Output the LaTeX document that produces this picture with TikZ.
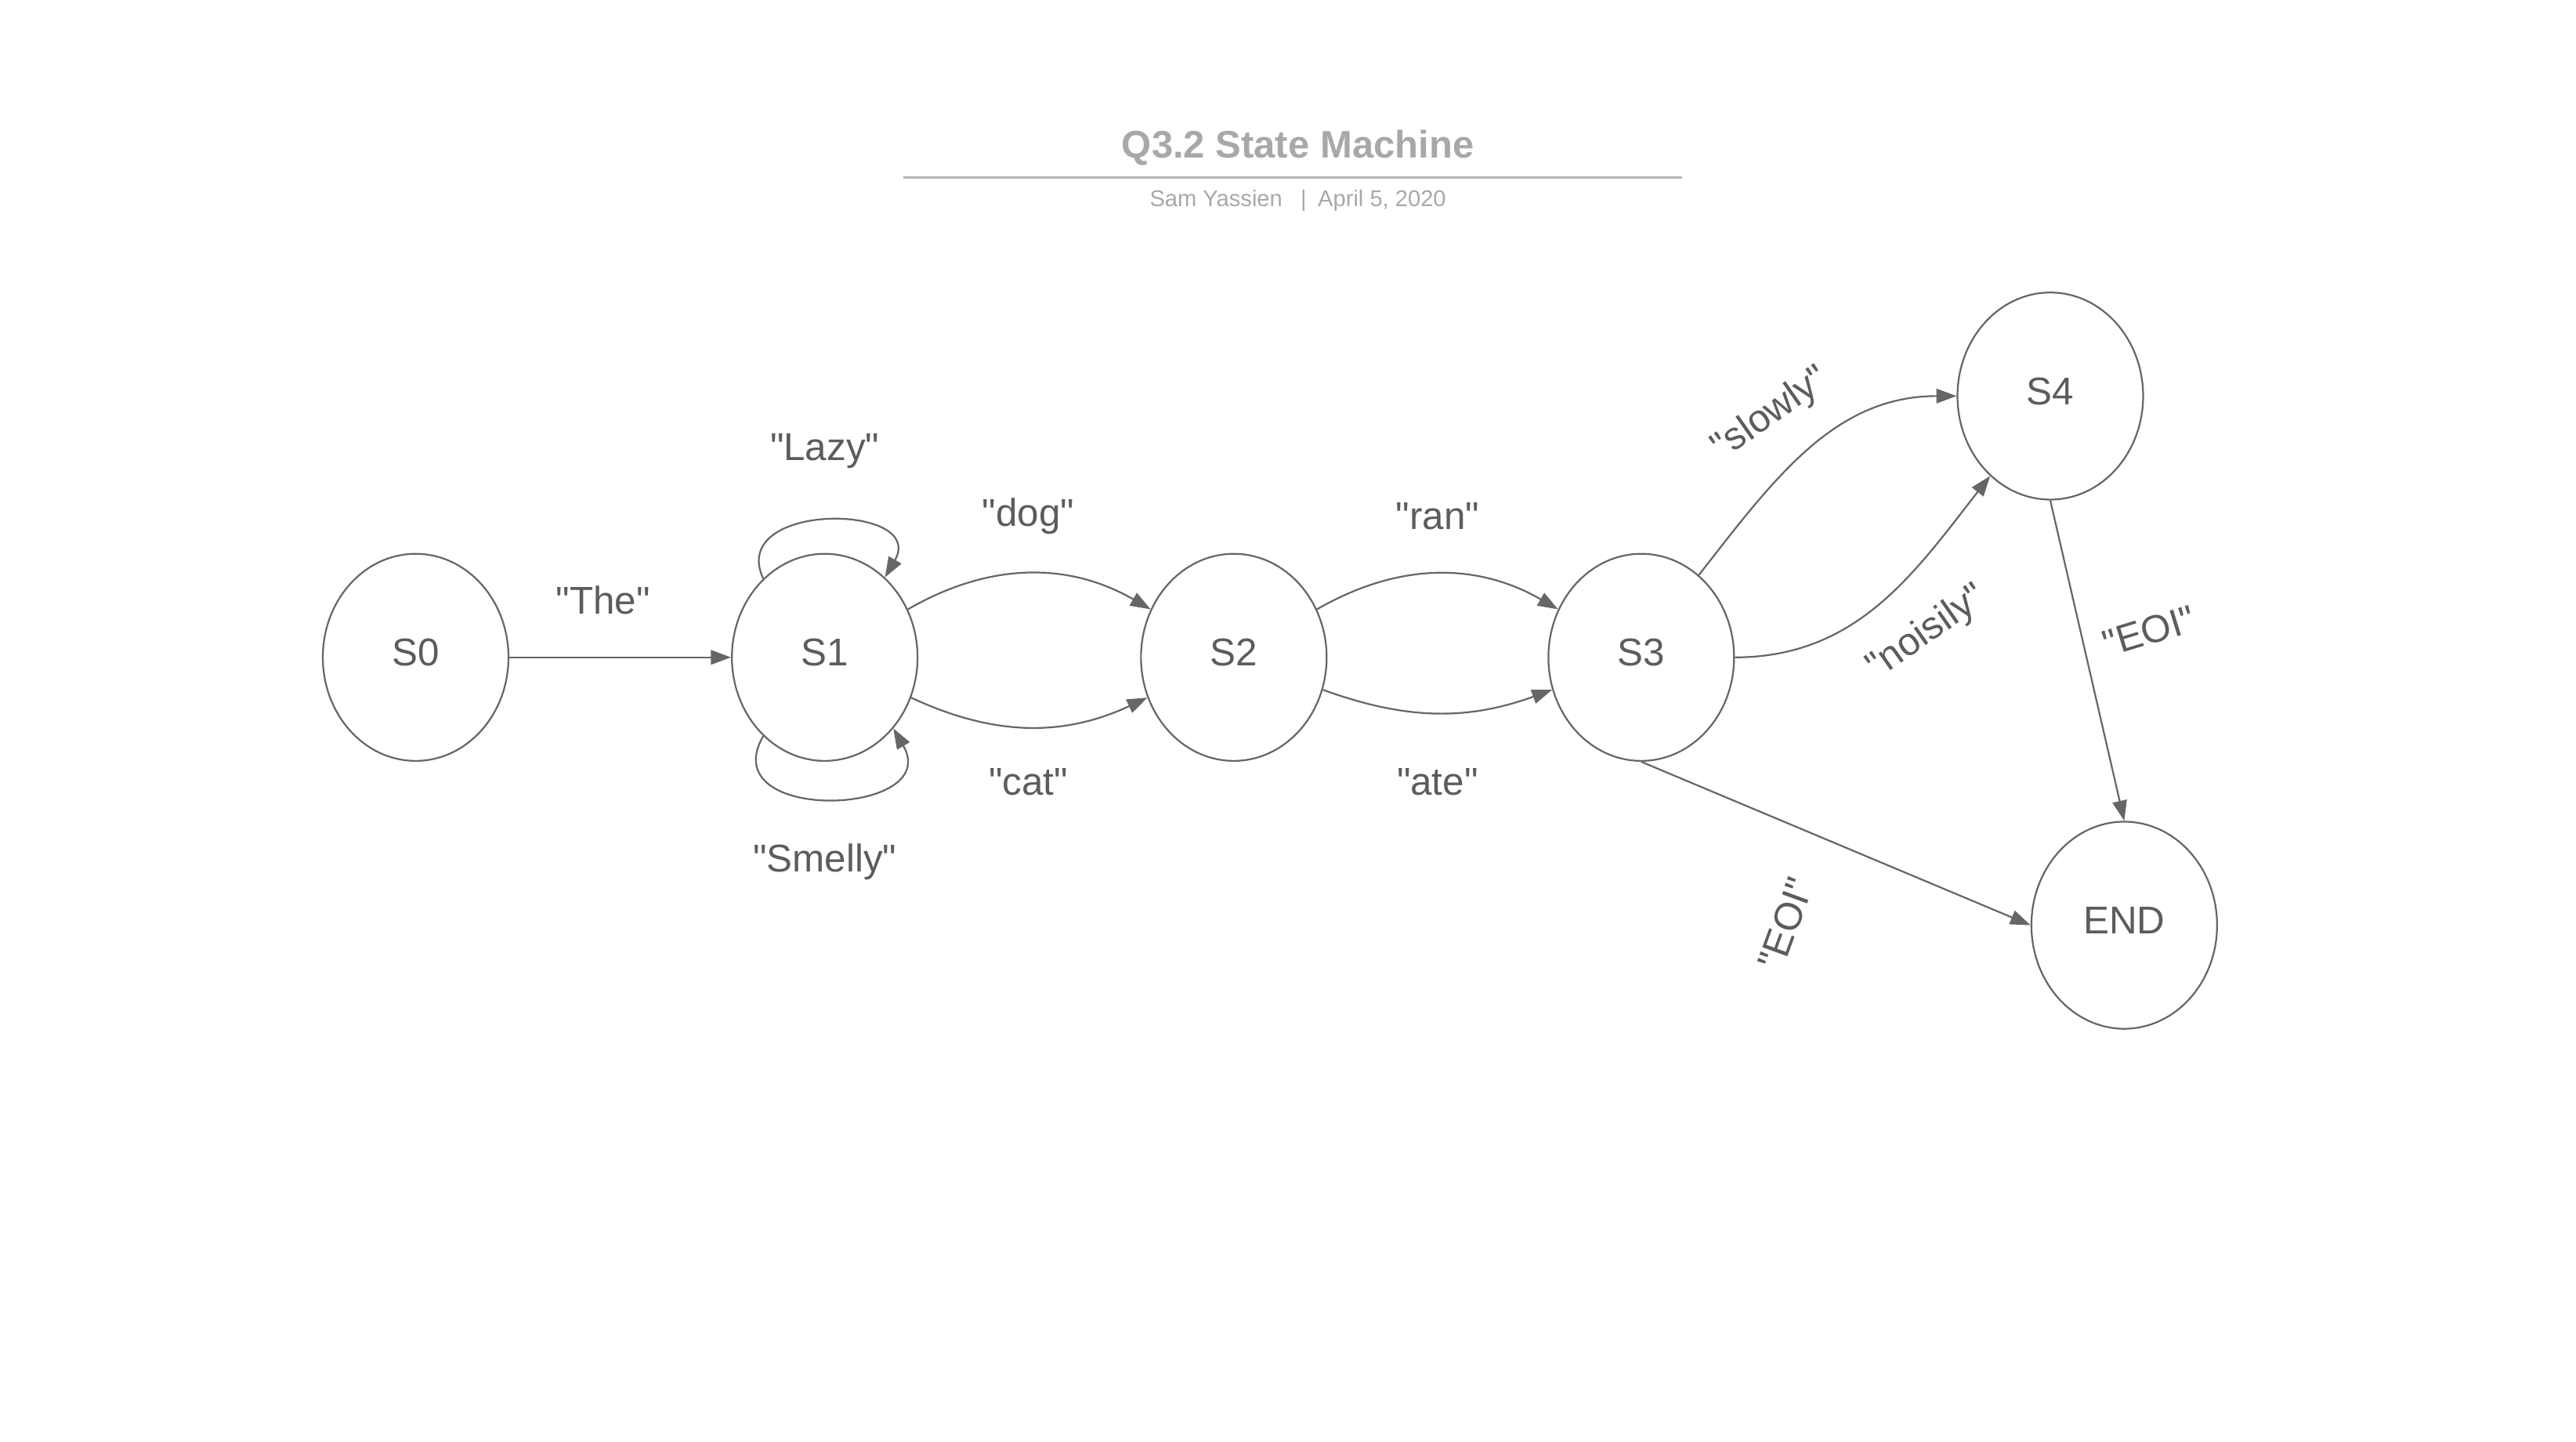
\documentclass[tikz,border=0pt]{standalone}
\usepackage{fontspec}
\setmainfont{Liberation Sans}[Ligatures=TeXOff]
\usepackage{tikz}
\usetikzlibrary{arrows.meta,positioning,shapes.geometric}
\definecolor{lineG}{RGB}{102,102,102}
\definecolor{textG}{RGB}{92,92,92}
\definecolor{titleG}{RGB}{168,168,168}
\definecolor{ruleG}{RGB}{180,180,180}
% straight double quotes round a word
\newcommand{\qw}[1]{"#1"}

\begin{document}
\begin{tikzpicture}[font=\fontsize{13.4}{16}\selectfont, >={Triangle[length=7pt,width=5pt]},
  st/.style={ellipse, draw=lineG, line width=0.6pt, text=textG, minimum width=2.26cm, minimum height=2.52cm, inner sep=0, text depth=3.4pt},
  lb/.style={text=textG, inner sep=0},
  ed/.style={->, draw=lineG, line width=0.6pt}]
  \useasboundingbox (0,0) rectangle (31.36,17.54);
  % title block
  \node[font=\bfseries\fontsize{13.3}{16}\selectfont, text=titleG] (title) at (15.8,15.74) {Q3.2 State Machine};
  \draw[ruleG, line width=1pt] (11.0,15.38) -- (20.48,15.38);
  \node[font=\fontsize{7.9}{9}\selectfont, text=titleG] (sub) at (15.8,15.10)
    {Sam Yassien\hspace{0.8em}|\hspace{0.5em}April 5, 2020};
  % states
  \node[st] (S0) at (5.06,9.54) {S0};
  \node[st] (S1) at (10.04,9.54) {S1};
  \node[st] (S2) at (15.02,9.54) {S2};
  \node[st] (S3) at (19.98,9.54) {S3};
  \node[st] (S4) at (24.96,12.72) {S4};
  \node[st] (END) at (25.86,6.28) {END};
  % transitions
  \draw[ed] (S0) -- (S1);
  \draw[ed] (S1.128) to[out=115, in=60, looseness=1.8] (S1.53);
  \draw[ed] (S1.232) to[out=240, in=300, looseness=2] (S1.314);
  \draw[ed] (S1) to[bend left=30] (S2);
  \draw[ed] (S1) to[bend right=25] (S2);
  \draw[ed] (S2) to[bend left=30] (S3);
  \draw[ed] (S2) to[bend right=20] (S3);
  \draw[ed] (S3.55) to[out=52, in=180] (S4.west);
  \draw[ed] (S3.east) to[out=0, in=232] (S4.233);
  \draw[ed] (S4.south) -- (END.north);
  \draw[ed] (S3.south) -- (END.west);
  % labels
  \node[lb] (lThe) at (7.34,10.24) {\qw{The}};
  \node[lb] (lLazy) at (10.04,12.05) {\qw{Lazy}};
  \node[lb] (lSmelly) at (10.04,7.05) {\qw{Smelly}};
  \node[lb] (lDog) at (12.52,11.26) {\qw{dog}};
  \node[lb] (lCat) at (12.52,8.02) {\qw{cat}};
  \node[lb] (lRan) at (17.50,11.26) {\qw{ran}};
  \node[lb] (lAte) at (17.50,8.02) {\qw{ate}};
  \node[lb, rotate=35] (lSlowly) at (21.56,12.50) {\qw{slowly}};
  \node[lb, rotate=35] (lNoisily) at (23.46,9.84) {\qw{noisily}};
  \node[lb, rotate=17] (lEoiA) at (26.16,9.86) {\qw{EOI}};
  \node[lb, rotate=70] (lEoiB) at (21.74,6.30) {\qw{EOI}};
\end{tikzpicture}
\end{document}
